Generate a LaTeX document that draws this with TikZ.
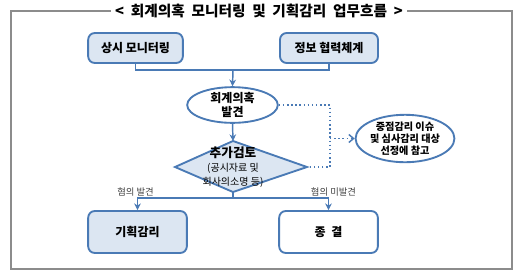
\documentclass[tikz,border=0pt]{standalone}
\usepackage{fontspec}
\setmainfont{Noto Sans CJK KR}
\usetikzlibrary{arrows.meta,shapes.geometric}
\definecolor{bord}{HTML}{4A7AB5}
\definecolor{fillb}{HTML}{DCE6F2}
\definecolor{framec}{HTML}{8C8C8C}
\definecolor{labc}{HTML}{404040}
\tikzset{
  box/.style={draw=bord, line width=1.4pt, rounded corners=5pt, align=center, font=\fontsize{9}{11}\selectfont\bfseries, inner sep=1pt},
  bluebox/.style={box, fill=fillb},
  whitebox/.style={box, fill=white},
  oval/.style={ellipse, draw=bord, line width=1.4pt, fill=white, align=center, inner sep=0pt},
  conn/.style={draw=bord, line width=1.1pt},
  arr/.style={conn, -{Stealth[length=5pt,width=5pt]}},
  dots/.style={draw=bord, line width=1.1pt, dotted},
  lab/.style={font=\fontsize{7}{8}\selectfont, text=labc, inner sep=0pt},
}
\begin{document}
\begin{tikzpicture}[x=0.75pt,y=-0.75pt]
\useasboundingbox (0,0) rectangle (520,276);
% frame and title
\draw[framec, line width=0.8pt] (11,11) rectangle (512,269);
\node[fill=white, inner xsep=3pt, inner ysep=1pt, font=\fontsize{11}{12}\selectfont\bfseries] (title) at (259,11) {<\ \ 회계의혹\ \ 모니터링\ \ 및\ \ 기획감리\ \ 업무흐름\ \ >};
% top boxes
\node[bluebox, minimum width=71pt, minimum height=22.5pt] (mon) at (135.5,48) {상시 모니터링};
\node[bluebox, minimum width=73.5pt, minimum height=22.5pt] (info) at (329,48) {정보 협력체계};
\coordinate (j1) at (233,70);
\draw[conn] (mon.south) |- (info.south |- j1) -- (info.south);
% ellipse
\node[oval, minimum width=68pt, minimum height=22.5pt, font=\fontsize{9}{10.5}\selectfont\bfseries] (find) at (232.5,105) {회계의혹\\발견};
\draw[arr] (j1) -- (find.north);
% diamond
\coordinate (dt) at (233,141);
\coordinate (dl) at (175,167);
\coordinate (dr) at (307,167);
\coordinate (db) at (233,192);
\draw[draw=bord, line width=1.4pt, fill=fillb, line join=miter] (dt) -- (dr) -- (db) -- (dl) -- cycle;
\node[align=center, inner sep=0pt] (chk) at (233,167) {{\fontsize{9.5}{10}\selectfont\bfseries 추가검토}\\[-1.5pt]{\fontsize{7.5}{8}\selectfont (공시자료 및}\\[-1pt]{\fontsize{7.5}{8}\selectfont 회사의소명 등)}};
\draw[arr] (find.south) -- (dt);
% right ellipse
\node[oval, minimum width=63pt, minimum height=35pt, font=\fontsize{7.6}{9}\selectfont\bfseries] (ref) at (405,138.5) {중점감리 이슈\\및 심사감리 대상\\선정에 참고};
\coordinate (dx) at (330,105);
\draw[dots] (find.east) -- (dx) -- (dx |- dr) -- (dr);
\draw[dots, -{Straight Barb[length=3.5pt,width=6pt]}] (dx |- ref.west) -- (ref.west);
% bottom
\node[bluebox, minimum width=74pt, minimum height=31.5pt] (plan) at (137.5,232) {기획감리};
\node[whitebox, minimum width=74pt, minimum height=31.5pt] (end) at (328.5,232) {종\ \ 결};
\coordinate (j2) at (233,198);
\draw[conn] (db) -- (j2);
\draw[arr] (j2) -| (plan.north);
\draw[arr] (j2) -| (end.north);
\node[lab] (l1) at (135.5,192) {혐의 발견};
\node[lab] (l2) at (333.5,192) {혐의 미발견};
\end{tikzpicture}
\end{document}
